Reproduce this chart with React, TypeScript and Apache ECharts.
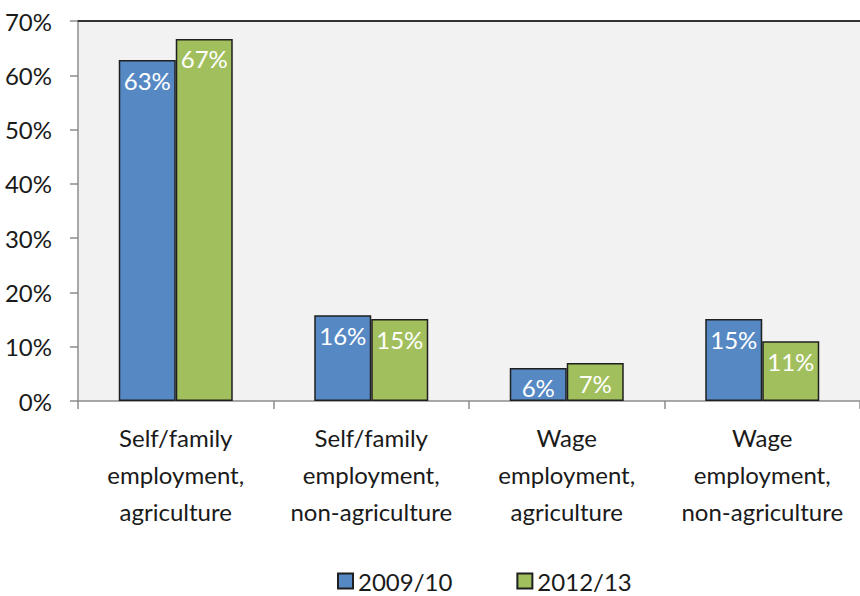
import React, { useEffect, useRef } from "react";
import * as echarts from "echarts";

const categories = [
  "Self/family\nemployment,\nagriculture",
  "Self/family\nemployment,\nnon-agriculture",
  "Wage\nemployment,\nagriculture",
  "Wage\nemployment,\nnon-agriculture",
];
const seriesNames = ["2009/10", "2012/13"];
const values2009 = [62.8, 15.8, 6.1, 15.1];
const values2012 = [66.7, 15.1, 7.0, 11.0];
const yTicks = [0, 10, 20, 30, 40, 50, 60, 70];

const FONT = "Lato";
const TXT = "#1a1a1a";

export default function App() {
  const ref = useRef<HTMLDivElement>(null);
  useEffect(() => {
    document.body.style.margin = "0";
    if (!ref.current) return;
    const chart = echarts.init(ref.current, null, { renderer: "svg" });
    const labelCfg = {
      show: true,
      position: "insideTop",
      distance: 4,
      color: "#ffffff",
      fontFamily: FONT,
      fontSize: 24,
      lineHeight: 32,
      formatter: (p: any) => Math.round(p.value) + "%",
    };
    chart.setOption({
      animation: false,
      backgroundColor: "#ffffff",
      textStyle: { fontFamily: FONT },
      grid: {
        left: 78,
        right: 0,
        top: 21,
        bottom: 195,
        show: true,
        backgroundColor: "#f2f2f2",
        borderWidth: 0,
        containLabel: false,
        outerBoundsMode: "none",
      },
      legend: {
        left: 337,
        top: 568,
        padding: 0,
        icon: "rect",
        itemWidth: 15,
        itemHeight: 15,
        itemGap: 64,
        textStyle: { fontFamily: FONT, fontSize: 24, lineHeight: 26, color: TXT },
        data: seriesNames,
      },
      xAxis: [
        {
          type: "category",
          data: categories,
          axisLine: { lineStyle: { color: "#8c8c8c", width: 1.5 } },
          axisTick: { show: true, length: 8, lineStyle: { color: "#8c8c8c", width: 1.5 } },
          axisLabel: {
            color: TXT,
            fontFamily: FONT,
            fontSize: 24,
            lineHeight: 37,
            margin: 18,
            interval: 0,
          },
          splitLine: { show: false },
        },
        {
          type: "category",
          data: categories,
          position: "top",
          axisLine: { lineStyle: { color: "#333333", width: 2 } },
          axisTick: { show: false },
          axisLabel: { show: false },
          splitLine: { show: false },
        },
      ],
      yAxis: {
        type: "value",
        min: yTicks[0],
        max: yTicks[yTicks.length - 1],
        interval: 10,
        axisLine: { show: true, lineStyle: { color: "#8c8c8c", width: 1.5 } },
        axisTick: { show: true, length: 8, lineStyle: { color: "#8c8c8c", width: 1.5 } },
        axisLabel: {
          color: TXT,
          fontFamily: FONT,
          fontSize: 24,
          margin: 26,
          formatter: (v: number) => v + "%",
        },
        splitLine: { show: false },
      },
      series: [
        {
          name: seriesNames[0],
          type: "bar",
          data: values2009,
          barWidth: 57,
          barGap: "0%",
          itemStyle: { color: "#5689c4", borderColor: "#1f1f1f", borderWidth: 1.5 },
          label: labelCfg,
        },
        {
          name: seriesNames[1],
          type: "bar",
          data: values2012,
          barWidth: 57,
          barGap: "0%",
          itemStyle: { color: "#a2bf5e", borderColor: "#1f1f1f", borderWidth: 1.5 },
          label: labelCfg,
        },
      ],
    });
    return () => chart.dispose();
  }, []);
  return <div ref={ref} style={{ width: 860, height: 596 }} />;
}
